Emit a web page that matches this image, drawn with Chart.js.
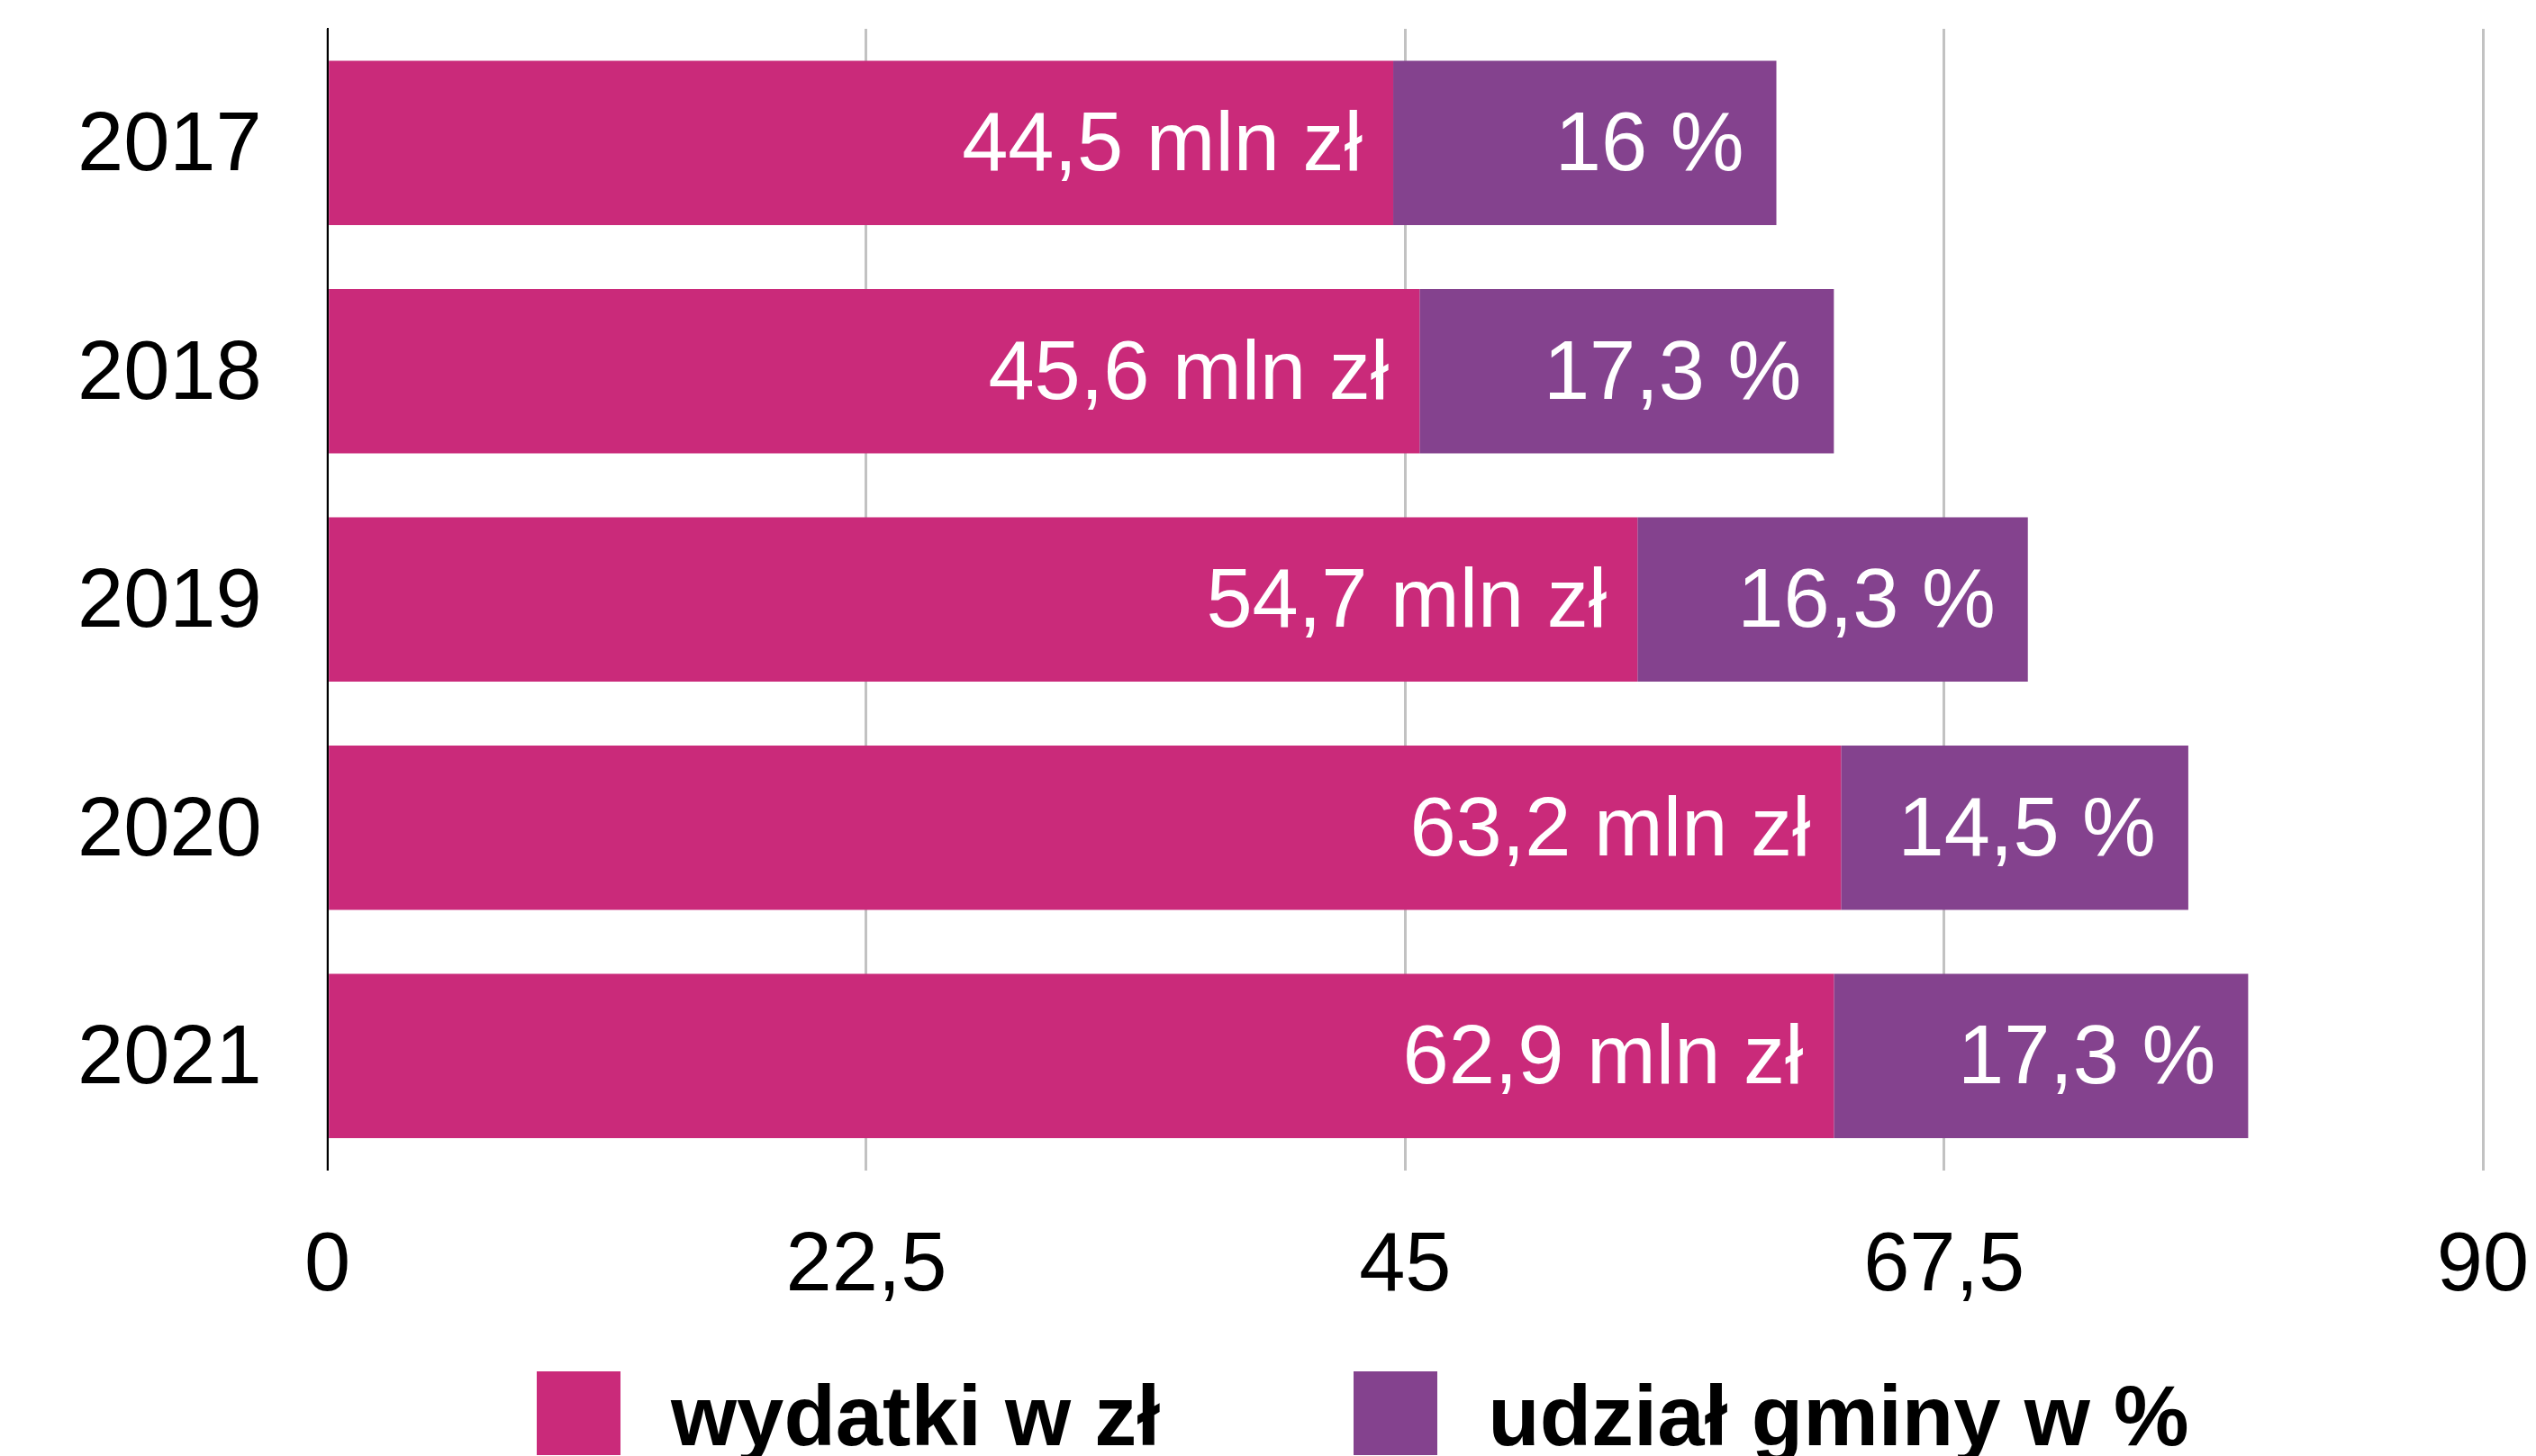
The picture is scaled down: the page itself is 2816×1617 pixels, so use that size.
<!DOCTYPE html>
<html lang="pl">
<head>
<meta charset="utf-8">
<title>Wydatki i udział gminy 2017–2021</title>
<script src="https://cdn.jsdelivr.net/npm/chart.js@4/dist/chart.umd.min.js"></script>
<style>
  html, body { margin: 0; padding: 0; background: #fff; }
  #wrap { position: relative; width: 2816px; height: 1617px; overflow: hidden; }
  #chart { position: absolute; left: 0; top: 0; }
  #legend {
    position: absolute; left: 596px; top: 1523px;
    display: flex; align-items: center;
    font-family: "Liberation Sans", Arial, sans-serif; font-weight: bold; font-size: 94px;
    color: #000; white-space: nowrap;
  }
  #legend .item { display: flex; align-items: center; height: 93px; }
  #legend .swatch { width: 93px; height: 93px; margin-right: 56px; flex: none; }
  #legend .text { line-height: 93px; position: relative; top: 3px; }
  #legend .item + .item { margin-left: 215px; }
</style>
</head>
<body>
<div id="wrap">
  <canvas id="chart" width="2816" height="1617"></canvas>
  <div id="legend"></div>
</div>
<script>
// Years on the category axis
const years = ['2017', '2018', '2019', '2020', '2021'];
// Expenditure, million PLN
const expenditure = [44.5, 45.6, 54.7, 63.2, 62.9];
// Municipality share, percent
const municipalShare = [16, 17.3, 16.3, 14.5, 17.3];
// Value axis ticks and their printed labels
const tickValues = [0, 22.5, 45, 67.5, 90];
const tickLabels = ['0', '22,5', '45', '67,5', '90'];
// Series names and colours
const seriesNames = ['wydatki w zł', 'udział gminy w %'];
const seriesColors = ['#CA2A7A', '#84428E'];
const seriesUnits = [' mln zł', ' %'];

const FONT = '"Liberation Sans", Arial, sans-serif';

function formatValue(v) {
  return String(v).replace('.', ',');
}

// White value labels drawn inside the end of each bar segment
const labelInsets = [34, 36];
const valueLabels = {
  id: 'valueLabels',
  afterDatasetsDraw(chart) {
    const ctx = chart.ctx;
    ctx.save();
    ctx.font = '92px ' + FONT;
    ctx.fillStyle = '#ffffff';
    ctx.textAlign = 'right';
    ctx.textBaseline = 'middle';
    chart.data.datasets.forEach((ds, di) => {
      const meta = chart.getDatasetMeta(di);
      meta.data.forEach((bar, i) => {
        const text = formatValue(ds.data[i]) + seriesUnits[di];
        ctx.fillText(text, bar.x - labelInsets[di], bar.y + 5);
      });
    });
    ctx.restore();
  }
};

function buildLegend() {
  const box = document.getElementById('legend');
  seriesNames.forEach((name, i) => {
    const item = document.createElement('div');
    item.className = 'item';
    const sw = document.createElement('div');
    sw.className = 'swatch';
    sw.style.background = seriesColors[i];
    const tx = document.createElement('span');
    tx.className = 'text';
    tx.textContent = name;
    item.appendChild(sw);
    item.appendChild(tx);
    box.appendChild(item);
  });
}

function draw() {
  new Chart(document.getElementById('chart'), {
    type: 'bar',
    data: {
      labels: years,
      datasets: [
        { label: seriesNames[0], data: expenditure, backgroundColor: seriesColors[0], borderWidth: 0 },
        { label: seriesNames[1], data: municipalShare, backgroundColor: seriesColors[1], borderWidth: 0 }
      ]
    },
    options: {
      indexAxis: 'y',
      responsive: false,
      animation: false,
      datasets: { bar: { categoryPercentage: 1, barPercentage: 0.72 } },
      layout: { padding: { left: 86, right: 59, top: 32, bottom: 154 } },
      plugins: {
        legend: { display: false },
        tooltip: { enabled: false }
      },
      scales: {
        x: {
          stacked: true,
          min: 0,
          max: 90,
          afterBuildTicks(axis) {
            axis.ticks = tickValues.map(v => ({ value: v }));
          },
          grid: {
            color: '#c2c2c2',
            lineWidth: 3,
            drawTicks: true,
            tickLength: 53,
            tickColor: 'rgba(0,0,0,0)'
          },
          border: { display: false },
          ticks: {
            padding: 0,
            color: '#000',
            font: { family: FONT, size: 92 },
            maxRotation: 0,
            callback: (value, index) => tickLabels[index]
          }
        },
        y: {
          stacked: true,
          grid: {
            display: true,
            drawOnChartArea: false,
            drawTicks: true,
            tickLength: 73,
            tickColor: 'rgba(0,0,0,0)'
          },
          border: { display: true, color: '#000', width: 2 },
          ticks: {
            padding: 0,
            labelOffset: 5,
            color: '#000',
            font: { family: FONT, size: 92, lineHeight: 0.4 }
          }
        }
      }
    },
    plugins: [valueLabels]
  });
}

buildLegend();
Promise.all([
  document.fonts.load('92px "Liberation Sans"'),
  document.fonts.load('bold 94px "Liberation Sans"')
]).catch(() => {}).then(draw);
</script>
</body>
</html>
